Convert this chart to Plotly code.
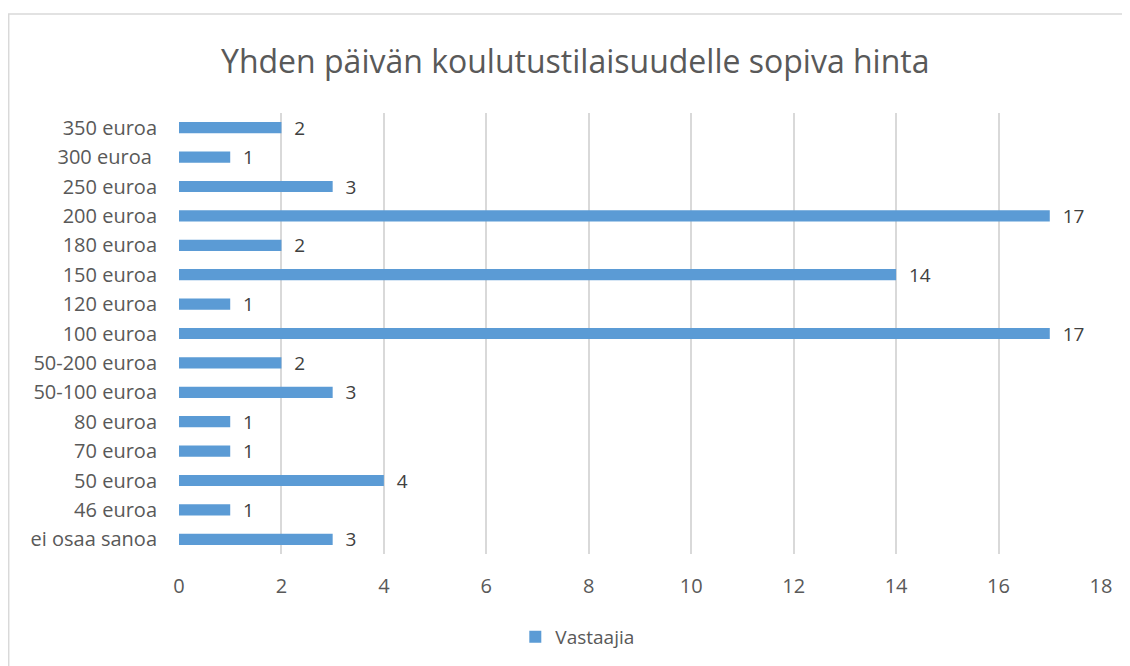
import plotly.graph_objects as go

categories = ["350 euroa", "300 euroa\u00a0", "250 euroa", "200 euroa", "180 euroa", "150 euroa",
              "120 euroa", "100 euroa", "50-200 euroa", "50-100 euroa", "80 euroa", "70 euroa",
              "50 euroa", "46 euroa", "ei osaa sanoa"]
values = [2, 1, 3, 17, 2, 14, 1, 17, 2, 3, 1, 1, 4, 1, 3]
x_ticks = [0, 2, 4, 6, 8, 10, 12, 14, 16, 18]

FONT = "Open Sans"
fig = go.Figure()
fig.add_trace(go.Bar(
    y=categories, x=values, orientation="h", name="Vastaajia",
    marker=dict(color="#5B9BD5", line=dict(width=0)),
    text=["  " + str(v) for v in values], textposition="outside",
    textfont=dict(size=19, color="#404040", family=FONT),
    constraintext="none",
    cliponaxis=False,
))
fig.update_layout(
    width=1130, height=666,
    margin=dict(l=171, r=37, t=105, b=120, autoexpand=False),
    paper_bgcolor="white", plot_bgcolor="white",
    title=dict(text="Yhden päivän koulutustilaisuudelle sopiva hinta",
               x=0.502, xanchor="center", y=0.919, yanchor="middle",
               font=dict(family=FONT, size=32, color="#595959")),
    font=dict(family=FONT, color="#595959"),
    bargap=0.62,
    showlegend=True,
    legend=dict(orientation="h", x=0.432, xanchor="center", y=-0.188, yanchor="middle",
                font=dict(size=19, color="#595959", family=FONT)),
    xaxis=dict(range=[0, 18], tickvals=x_ticks, showgrid=True, gridcolor="#d9d9d9",
               gridwidth=1.5, zeroline=False, showline=False, automargin=False,
               tickfont=dict(size=20, color="#595959"), ticks="", ticklabelstandoff=18),
    yaxis=dict(categoryorder="array", categoryarray=categories[::-1], automargin=False,
               tickfont=dict(size=20, color="#595959"), showgrid=False, ticks="",
               showline=False, ticklabelstandoff=21),
)
fig.add_shape(type="rect", xref="paper", yref="paper",
              x0=-0.1847, x1=1.2, y0=-0.6, y1=1.2245,
              line=dict(color="#d9d9d9", width=1.5), fillcolor="rgba(0,0,0,0)", layer="below")
fig.write_html("out.html")
